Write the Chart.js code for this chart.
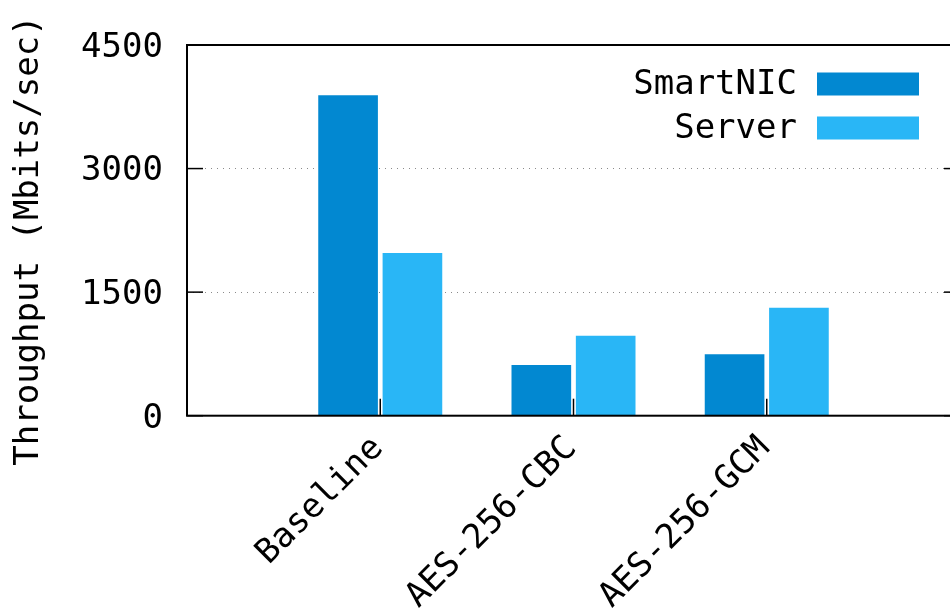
<!DOCTYPE html>
<html>
<head>
<meta charset="utf-8">
<title>Throughput: SmartNIC vs Server</title>
<script src="https://cdn.jsdelivr.net/npm/chart.js@4.4.1/dist/chart.umd.min.js"></script>
<style>
  html, body { margin: 0; padding: 0; overflow: hidden; background: #fff; }
  canvas { display: block; }
</style>
</head>
<body>
<canvas id="chart" width="960" height="608" style="width:960px;height:608px"></canvas>
<script>
// Throughput per cipher configuration
const categories = ['Baseline', 'AES-256-CBC', 'AES-256-GCM'];
const seriesNames = ['SmartNIC', 'Server'];
const smartNIC = [3890, 615, 745];
const server = [1975, 970, 1310];
const yTicks = [0, 1500, 3000, 4500];
const yTitle = 'Throughput (Mbits/sec)';

const FONT = 'DejaVu Sans Mono';
const FONT_SIZE = 34;
const colors = ['#0288D1', '#29B6F6'];

const toPoints = vals => vals.map((v, i) => ({ x: i, y: v }));

// Inward tick marks, plot frame and the in-plot key
const framePlugin = {
  id: 'frame',
  afterDatasetsDraw(chart) {
    const { ctx, chartArea: a, scales: { x, y } } = chart;
    const seg = (x1, y1, x2, y2) => { ctx.beginPath(); ctx.moveTo(x1, y1); ctx.lineTo(x2, y2); ctx.stroke(); };
    ctx.save();
    ctx.strokeStyle = '#000';
    ctx.lineWidth = 1.5;
    y.ticks.forEach(t => {
      const py = y.getPixelForValue(t.value);
      seg(a.left, py, a.left + 16, py);
      seg(a.right - 16, py, a.right, py);
    });
    categories.forEach((c, i) => {
      const px = x.getPixelForValue(i);
      seg(px, a.bottom, px, a.bottom - 17);
    });
    ctx.lineWidth = 2;
    ctx.strokeRect(a.left, a.top, a.right - a.left, a.bottom - a.top);

    // key: label right-aligned, swatch to its right
    ctx.font = FONT_SIZE + 'px "' + FONT + '"';
    ctx.textAlign = 'right';
    ctx.textBaseline = 'middle';
    chart.data.datasets.forEach((ds, i) => {
      const cy = 84 + i * 44;
      ctx.fillStyle = '#000';
      ctx.fillText(ds.label, 797, cy + 1);
      ctx.fillStyle = ds.backgroundColor;
      ctx.fillRect(817, cy - 11.5, 102, 23);
    });
    ctx.restore();
  }
};

new Chart(document.getElementById('chart'), {
  type: 'bar',
  data: {
    datasets: [
      { label: seriesNames[0], data: toPoints(smartNIC), backgroundColor: colors[0], borderWidth: 0 },
      { label: seriesNames[1], data: toPoints(server), backgroundColor: colors[1], borderWidth: 0 }
    ]
  },
  options: {
    responsive: false,
    animation: false,
    barPercentage: 0.927,
    categoryPercentage: 0.666,
    layout: { padding: { top: 45, left: 0, right: 0, bottom: 0 } },
    plugins: { legend: { display: false }, tooltip: { enabled: false } },
    scales: {
      x: {
        type: 'linear',
        min: -1,
        max: 3,
        offset: false,
        grid: { display: false, drawTicks: false },
        border: { display: false },
        ticks: {
          stepSize: 1,
          autoSkip: false,
          minRotation: 45,
          maxRotation: 45,
          padding: 13,
          labelOffset: -2,
          color: '#000',
          font: { family: FONT, size: FONT_SIZE },
          callback: v => (Number.isInteger(v) && categories[v] !== undefined) ? categories[v] : null
        },
        afterFit(scale) {
          scale.height = 192.3;
          scale.paddingLeft = 0;
          scale.paddingRight = 0;
        }
      },
      y: {
        min: 0,
        max: 4500,
        grid: { color: '#8a8a8a', lineWidth: 1, drawTicks: false },
        border: { display: false, dash: [1, 5] },
        ticks: {
          padding: 24,
          labelOffset: 3,
          color: '#000',
          font: { family: FONT, size: FONT_SIZE },
          callback: v => String(v)
        },
        afterBuildTicks(scale) {
          scale.ticks = yTicks.map(v => ({ value: v }));
        },
        title: {
          display: true,
          text: yTitle + ' ',
          color: '#000',
          font: { family: FONT, size: FONT_SIZE },
          padding: { top: 9, bottom: 0 }
        },
        afterFit(scale) {
          scale.width = 187;
          scale.paddingTop = 0;
          scale.paddingBottom = 0;
        }
      }
    }
  },
  plugins: [framePlugin]
});
</script>
</body>
</html>
